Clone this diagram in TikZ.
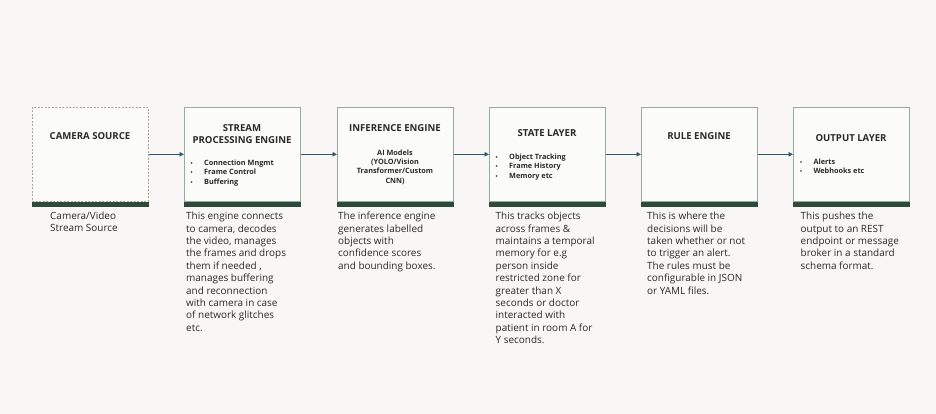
\documentclass[tikz,border=0pt]{standalone}
\usepackage{fontspec}
\setmainfont{Open Sans}
\usetikzlibrary{arrows.meta}
\definecolor{bg}{HTML}{F8F7F5}
\definecolor{boxfill}{HTML}{FBFBFA}
\definecolor{boxline}{HTML}{9AABA2}
\definecolor{bargreen}{HTML}{2E4B38}
\definecolor{arrowc}{HTML}{2B5A73}
\definecolor{txt}{HTML}{2A2A2A}
\tikzset{
  stagebox/.style={draw=boxline, line width=0.6pt, fill=boxfill, minimum width=116pt, minimum height=94pt, anchor=north west, inner sep=0pt},
  srcbox/.style={stagebox, draw=gray!70, dashed, dash pattern=on 2pt off 1.5pt},
  bar/.style={fill=bargreen},
  title/.style={font=\fontsize{9.6}{11.7}\selectfont\bfseries, text=txt, anchor=base, inner sep=0pt, align=center},
  blist/.style={font=\fontsize{7.3}{9.4}\selectfont\bfseries, text=txt, anchor=north west, inner sep=0pt, align=left},
  clist/.style={font=\fontsize{7.3}{9.4}\selectfont\bfseries, text=txt, anchor=north, inner sep=0pt, align=center},
  desc/.style={font=\fontsize{9.95}{12.4}\selectfont, text=txt, anchor=north west, inner sep=0pt, align=left}
}
\tikzset{flow/.style={draw=arrowc, line width=0.9pt, -{Triangle[length=4.5pt,width=4.5pt]}}}
\newcommand{\bul}{\makebox[13.5pt][l]{\fontsize{5.5}{5.5}\selectfont•}}
\newcommand{\lstrut}{\rule{0pt}{5.6pt}}
\newcommand{\dstrut}{\rule{0pt}{7.8pt}}
\begin{document}
\begin{tikzpicture}[x=1pt,y=-1pt]
\fill[bg] (0,0) rectangle (936,414);
\useasboundingbox (0,0) rectangle (936,414);
% boxes
\node[srcbox] (b1) at (32,107) {};
\node[stagebox] (b2) at (184,107) {};
\node[stagebox] (b3) at (337,107) {};
\node[stagebox] (b4) at (489,107) {};
\node[stagebox] (b5) at (641,107) {};
\node[stagebox] (b6) at (793,107) {};
% green bars
\foreach \n in {b1,b2,b3,b4,b5,b6}{
  \fill[bar] (\n.south west) rectangle ([yshift=-5.5pt]\n.south east);
}
% arrows
\draw[flow] (b1.east) -- (b2.west);
\draw[flow] (b2.east) -- (b3.west);
\draw[flow] (b3.east) -- (b4.west);
\draw[flow] (b4.east) -- (b5.west);
\draw[flow] (b5.east) -- (b6.west);
% titles
\node[title] (t1) at (90,139.2) {CAMERA SOURCE};
\node[title] (t2a) at (242,131.8) {STREAM};
\node[title] (t2b) at (242,143.5) {PROCESSING ENGINE};
\node[title] (t3) at (395,132) {INFERENCE ENGINE};
\node[title] (t4) at (547,137) {STATE LAYER};
\node[title] (t5) at (699,139.2) {RULE ENGINE};
\node[title] (t6) at (851,141.2) {OUTPUT LAYER};
% box contents
\node[blist] (l2) at (190.5,159.4) {\lstrut\bul Connection Mngmt\\\bul Frame Control\\\bul Buffering};
\node[clist] (l3) at (395,149.4) {\lstrut AI Models\\(YOLO/Vision\\Transformer/Custom\\CNN)};
\node[blist] (l4) at (495.5,153.7) {\lstrut\bul Object Tracking\\\bul Frame History\\\bul Memory etc};
\node[blist] (l6) at (799.8,158.4) {\lstrut\bul Alerts\\\bul Webhooks etc};
% descriptions
\node[desc] (d1) at (50,211.2) {\dstrut Camera/Video\\Stream Source};
\node[desc] (d2) at (186,211.7) {\dstrut This engine connects\\to camera, decodes\\the video, manages\\the frames and drops\\them if needed ,\\manages buffering\\and reconnection\\with camera in case\\of network glitches\\etc.};
\node[desc] (d3) at (338,211.7) {\dstrut The inference engine\\generates labelled\\objects with\\confidence scores\\and bounding boxes.};
\node[desc] (d4) at (495.5,211.7) {\dstrut This tracks objects\\across frames \&\\maintains a temporal\\memory for e.g\\person inside\\restricted zone for\\greater than X\\seconds or doctor\\interacted with\\patient in room A for\\Y seconds.};
\node[desc] (d5) at (647,211.7) {\dstrut This is where the\\decisions will be\\taken whether or not\\to trigger an alert.\\The rules must be\\configurable in JSON\\or YAML files.};
\node[desc] (d6) at (800.5,211.7) {\dstrut This pushes the\\output to an REST\\endpoint or message\\broker in a standard\\schema format.};
\end{tikzpicture}
\end{document}
